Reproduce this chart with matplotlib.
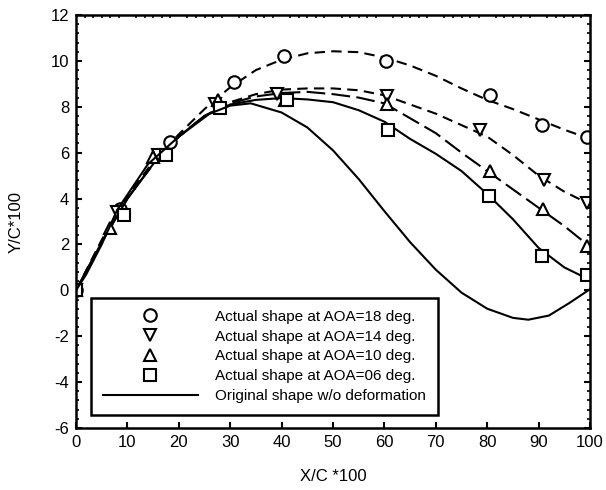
import matplotlib
matplotlib.use("Agg")
import matplotlib.pyplot as plt
import numpy as np
from matplotlib.ticker import MultipleLocator, FixedLocator

plt.rcParams['font.family'] = ['Liberation Sans', 'DejaVu Sans']
plt.rcParams['axes.unicode_minus'] = False

# Measured points (X/C*100, Y/C*100)
x18 = [0, 8.5, 18.3, 30.7, 40.4, 60.3, 80.5, 90.6, 99.5]
y18 = [0, 3.55, 6.45, 9.1, 10.2, 10.0, 8.5, 7.2, 6.7]
x14 = [0, 8.0, 16.0, 27.0, 39.1, 60.5, 78.6, 91.0, 99.5]
y14 = [0, 3.4, 5.9, 8.1, 8.55, 8.45, 7.0, 4.8, 3.8]
x10 = [0, 6.6, 14.9, 27.6, 40.7, 60.5, 80.5, 90.8, 99.5]
y10 = [0, 2.7, 5.8, 8.3, 8.3, 8.1, 5.2, 3.55, 1.95]
x06 = [0, 9.4, 17.6, 28.0, 41.0, 60.7, 80.4, 90.7, 99.4]
y06 = [0, 3.3, 5.9, 7.95, 8.3, 7.0, 4.12, 1.5, 0.65]

# Fitted curves
cx18 = [0, 5, 10, 15, 20, 25, 30, 35, 40, 45, 50, 55, 60, 65, 70, 75, 80, 85, 90, 95, 100]
cy18 = [0, 2.2, 4.1, 5.6, 6.8, 7.9, 8.85, 9.6, 10.05, 10.33, 10.42, 10.38, 10.15, 9.8, 9.35, 8.8, 8.3, 7.9, 7.45, 7.0, 6.6]
cx14 = [0, 5, 10, 15, 20, 25, 30, 35, 40, 45, 50, 55, 60, 65, 70, 75, 80, 85, 90, 95, 100]
cy14 = [0, 2.1, 4.0, 5.5, 6.7, 7.6, 8.2, 8.55, 8.75, 8.8, 8.8, 8.72, 8.5, 8.1, 7.7, 7.2, 6.7, 5.9, 5.0, 4.3, 3.75]
cx10 = [0, 5, 10, 15, 20, 25, 30, 35, 40, 45, 50, 55, 60, 65, 70, 75, 80, 85, 90, 95, 100]
cy10 = [0, 2.1, 4.0, 5.5, 6.7, 7.6, 8.15, 8.45, 8.6, 8.65, 8.55, 8.4, 8.15, 7.5, 6.85, 6.0, 5.2, 4.4, 3.6, 2.8, 1.9]
cx06 = [0, 5, 10, 15, 20, 25, 30, 35, 40, 45, 50, 55, 60, 65, 70, 75, 80, 85, 90, 95, 100]
cy06 = [0, 2.1, 4.0, 5.5, 6.7, 7.6, 8.1, 8.3, 8.38, 8.32, 8.2, 7.85, 7.35, 6.6, 5.95, 5.2, 4.2, 3.1, 1.85, 1.0, 0.45]
cx0 = [0, 2, 5, 8, 14, 20, 26, 30, 34, 40, 45, 50, 55, 60, 65, 70, 75, 80, 85, 88, 92, 96, 100]
cy0 = [0, 0.7, 2.0, 3.5, 5.5, 6.7, 7.7, 8.05, 8.15, 7.75, 7.1, 6.1, 4.85, 3.45, 2.1, 0.9, -0.1, -0.8, -1.2, -1.28, -1.1, -0.55, 0.05]

labels = ['Actual shape at AOA=18 deg.', 'Actual shape at AOA=14 deg.',
          'Actual shape at AOA=10 deg.', 'Actual shape at AOA=06 deg.',
          'Original shape w/o deformation']

fig = plt.figure(figsize=(6.06, 4.90), dpi=100)
ax = fig.add_axes([76/606, 1-428/490, (590-76)/606, (428-15)/490])

lw = 1.5
ax.plot(cx18, cy18, color='black', lw=lw, linestyle=(0, (5, 3)))
ax.plot(cx14, cy14, color='black', lw=lw, linestyle=(0, (5, 3)))
ax.plot(cx10, cy10, color='black', lw=lw, linestyle=(0, (9, 3)))
ax.plot(cx06, cy06, color='black', lw=lw, linestyle='-')

mk = dict(linestyle='none', markerfacecolor='white', markeredgecolor='black',
          markeredgewidth=1.5, markersize=9)
h1, = ax.plot(x18, y18, marker='o', label=labels[0], **mk)
h2, = ax.plot(x14, y14, marker='v', label=labels[1], **mk)
h3, = ax.plot(x10, y10, marker='^', label=labels[2], **mk)
h4, = ax.plot(x06, y06, marker='s', label=labels[3], **mk)
h5, = ax.plot(cx0, cy0, color='black', lw=lw, linestyle='-', label=labels[4])

ax.set_xlim(0, 100)
ax.set_ylim(-6, 12)
ax.xaxis.set_major_locator(MultipleLocator(10))
ax.yaxis.set_major_locator(MultipleLocator(2))
ax.yaxis.set_minor_locator(MultipleLocator(0.4))
ax.tick_params(axis='both', which='major', direction='in', length=4, width=1.5,
               labelsize=12, top=False, right=True, pad=5)
ax.tick_params(axis='y', which='minor', direction='in', length=2.5, width=1.2, right=True)
ax.tick_params(axis='x', which='minor', direction='in', length=2.5, width=1.2, top=True, bottom=False)
ax.xaxis.set_minor_locator(FixedLocator(list(np.arange(0, 100.01, 100/60))))
for s in ax.spines.values():
    s.set_linewidth(1.8)

ax.set_xlabel('X/C *100', fontsize=12, labelpad=14)
ax.set_ylabel('Y/C*100', fontsize=12, labelpad=19)

leg = ax.legend(handles=[h1, h2, h3, h4, h5], loc='lower left',
                bbox_to_anchor=(0.029, 0.031), fontsize=11, frameon=True,
                fancybox=False, edgecolor='black', handlelength=6.2,
                handletextpad=1.1, borderpad=0.8, labelspacing=0.38,
                borderaxespad=0)
leg.get_frame().set_linewidth(1.8)
leg.get_frame().set_alpha(1)

fig.savefig('out.png', dpi=100)
